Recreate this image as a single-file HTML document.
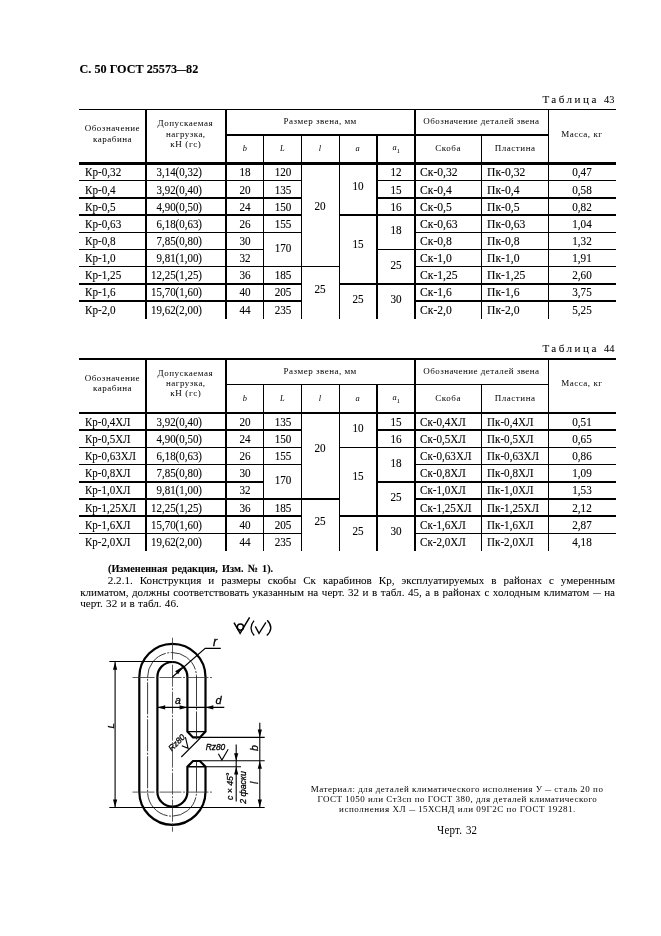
<!DOCTYPE html>
<html lang="ru">
<head>
<meta charset="utf-8">
<title>ГОСТ 25573—82, с. 50</title>
<style>
html,body{margin:0;padding:0;background:#fff;}
body{filter:grayscale(1);width:661px;height:936px;position:relative;overflow:hidden;font-family:"Liberation Serif","DejaVu Serif",serif;color:#000;}
.ln{position:absolute;background:#000;}
.t{position:absolute;line-height:20px;white-space:nowrap;margin:0;padding:0;-webkit-text-stroke:0.1px #000;}
.b{font-weight:bold;}
.ns{-webkit-text-stroke:0;}
.ps{-webkit-text-stroke:0.05px #000;}
.d{display:inline-block;transform-origin:0 50%;}
.i{font-style:italic;}
.sans{font-family:"Liberation Sans","DejaVu Sans",sans-serif;}
svg{position:absolute;overflow:visible;}
</style>
</head>
<body>
<span class="t b" style="top:59px;font-size:12.2px;left:79.5px;">С. 50 ГОСТ 25573<span class="d" style="width:8.9px;transform:scaleX(0.730)">—</span>82</span>
<span class="t ps" style="left:542.40px;top:89px;font-size:11.1px;letter-spacing:2.475px;">Таблица</span>
<span class="t ps" style="left:604.40px;top:89px;font-size:11.1px;transform:scaleX(0.9369);transform-origin:0 0;">43</span>
<div class="ln" style="left:79px;top:109px;width:537px;height:1px"></div>
<div class="ln" style="left:226px;top:134px;width:322px;height:2px"></div>
<div class="ln" style="left:79px;top:162px;width:537px;height:3px"></div>
<div class="ln" style="left:145px;top:109px;width:2px;height:210px"></div>
<div class="ln" style="left:225px;top:109px;width:2px;height:210px"></div>
<div class="ln" style="left:263px;top:134px;width:1px;height:185px"></div>
<div class="ln" style="left:301px;top:134px;width:1px;height:185px"></div>
<div class="ln" style="left:339px;top:134px;width:1px;height:185px"></div>
<div class="ln" style="left:376px;top:134px;width:2px;height:185px"></div>
<div class="ln" style="left:414px;top:109px;width:2px;height:210px"></div>
<div class="ln" style="left:481px;top:134px;width:1px;height:185px"></div>
<div class="ln" style="left:548px;top:109px;width:1px;height:210px"></div>
<span class="t ns" style="left:84.70px;top:118px;font-size:9.0px;letter-spacing:0.517px;">Обозначение</span>
<span class="t ns" style="left:93.00px;top:129px;font-size:9.0px;letter-spacing:0.524px;">карабина</span>
<span class="t ns" style="left:157.60px;top:113px;font-size:9.0px;letter-spacing:0.506px;">Допускаемая</span>
<span class="t ns" style="left:166.00px;top:124px;font-size:9.0px;letter-spacing:0.460px;">нагрузка,</span>
<span class="t ns" style="left:170.30px;top:134px;font-size:9.0px;letter-spacing:0.616px;">кН (гс)</span>
<span class="t ns" style="left:283.60px;top:111px;font-size:9.0px;letter-spacing:0.492px;">Размер звена, мм</span>
<span class="t ns" style="left:423.20px;top:111px;font-size:9.0px;letter-spacing:0.463px;">Обозначение деталей звена</span>
<span class="t i ns" style="top:139px;font-size:8.4px;left:94.90px;width:300px;text-align:center;">b</span>
<span class="t i ns" style="top:139px;font-size:8.4px;left:132.30px;width:300px;text-align:center;">L</span>
<span class="t i ns" style="top:139px;font-size:8.4px;left:169.80px;width:300px;text-align:center;">l</span>
<span class="t i ns" style="top:139px;font-size:8.4px;left:207.50px;width:300px;text-align:center;">a</span>
<span class="t i ns" style="top:138px;font-size:8.4px;left:246.20px;width:300px;text-align:center;">a<sub style="font-size:6.8px;font-style:normal;vertical-align:-2.6px;line-height:0">1</sub></span>
<span class="t ns" style="left:435.30px;top:138px;font-size:9.0px;letter-spacing:0.527px;">Скоба</span>
<span class="t ns" style="left:494.80px;top:138px;font-size:9.0px;letter-spacing:0.523px;">Пластина</span>
<span class="t ns" style="left:561.20px;top:124px;font-size:9.0px;letter-spacing:0.518px;">Масса, кг</span>
<span class="t" style="top:163px;font-size:11.7px;left:84.9px;transform:scaleX(0.954);transform-origin:0 0;">Кр-0,32</span>
<span class="t" style="top:163px;font-size:11.7px;left:-97.80px;width:300px;text-align:right;transform:scaleX(0.93492);transform-origin:100% 0;">3,14(0,32)</span>
<span class="t" style="top:163px;font-size:11.7px;left:95.40px;width:300px;text-align:center;transform:scaleX(0.954);transform-origin:50% 0;">18</span>
<span class="t" style="top:163px;font-size:11.7px;left:419.5px;transform:scaleX(0.996);transform-origin:0 0;">Ск-0,32</span>
<span class="t" style="top:163px;font-size:11.7px;left:486.7px;transform:scaleX(0.996);transform-origin:0 0;">Пк-0,32</span>
<span class="t" style="top:163px;font-size:11.7px;left:432.40px;width:300px;text-align:center;transform:scaleX(0.954);transform-origin:50% 0;">0,47</span>
<span class="t" style="top:181px;font-size:11.7px;left:84.9px;transform:scaleX(0.954);transform-origin:0 0;">Кр-0,4</span>
<span class="t" style="top:181px;font-size:11.7px;left:-97.80px;width:300px;text-align:right;transform:scaleX(0.93492);transform-origin:100% 0;">3,92(0,40)</span>
<span class="t" style="top:181px;font-size:11.7px;left:95.40px;width:300px;text-align:center;transform:scaleX(0.954);transform-origin:50% 0;">20</span>
<span class="t" style="top:181px;font-size:11.7px;left:419.5px;transform:scaleX(0.996);transform-origin:0 0;">Ск-0,4</span>
<span class="t" style="top:181px;font-size:11.7px;left:486.7px;transform:scaleX(0.996);transform-origin:0 0;">Пк-0,4</span>
<span class="t" style="top:181px;font-size:11.7px;left:432.40px;width:300px;text-align:center;transform:scaleX(0.954);transform-origin:50% 0;">0,58</span>
<span class="t" style="top:198px;font-size:11.7px;left:84.9px;transform:scaleX(0.954);transform-origin:0 0;">Кр-0,5</span>
<span class="t" style="top:198px;font-size:11.7px;left:-97.80px;width:300px;text-align:right;transform:scaleX(0.93492);transform-origin:100% 0;">4,90(0,50)</span>
<span class="t" style="top:198px;font-size:11.7px;left:95.40px;width:300px;text-align:center;transform:scaleX(0.954);transform-origin:50% 0;">24</span>
<span class="t" style="top:198px;font-size:11.7px;left:419.5px;transform:scaleX(0.996);transform-origin:0 0;">Ск-0,5</span>
<span class="t" style="top:198px;font-size:11.7px;left:486.7px;transform:scaleX(0.996);transform-origin:0 0;">Пк-0,5</span>
<span class="t" style="top:198px;font-size:11.7px;left:432.40px;width:300px;text-align:center;transform:scaleX(0.954);transform-origin:50% 0;">0,82</span>
<span class="t" style="top:215px;font-size:11.7px;left:84.9px;transform:scaleX(0.954);transform-origin:0 0;">Кр-0,63</span>
<span class="t" style="top:215px;font-size:11.7px;left:-97.80px;width:300px;text-align:right;transform:scaleX(0.93492);transform-origin:100% 0;">6,18(0,63)</span>
<span class="t" style="top:215px;font-size:11.7px;left:95.40px;width:300px;text-align:center;transform:scaleX(0.954);transform-origin:50% 0;">26</span>
<span class="t" style="top:215px;font-size:11.7px;left:419.5px;transform:scaleX(0.996);transform-origin:0 0;">Ск-0,63</span>
<span class="t" style="top:215px;font-size:11.7px;left:486.7px;transform:scaleX(0.996);transform-origin:0 0;">Пк-0,63</span>
<span class="t" style="top:215px;font-size:11.7px;left:432.40px;width:300px;text-align:center;transform:scaleX(0.954);transform-origin:50% 0;">1,04</span>
<span class="t" style="top:232px;font-size:11.7px;left:84.9px;transform:scaleX(0.954);transform-origin:0 0;">Кр-0,8</span>
<span class="t" style="top:232px;font-size:11.7px;left:-97.80px;width:300px;text-align:right;transform:scaleX(0.93492);transform-origin:100% 0;">7,85(0,80)</span>
<span class="t" style="top:232px;font-size:11.7px;left:95.40px;width:300px;text-align:center;transform:scaleX(0.954);transform-origin:50% 0;">30</span>
<span class="t" style="top:232px;font-size:11.7px;left:419.5px;transform:scaleX(0.996);transform-origin:0 0;">Ск-0,8</span>
<span class="t" style="top:232px;font-size:11.7px;left:486.7px;transform:scaleX(0.996);transform-origin:0 0;">Пк-0,8</span>
<span class="t" style="top:232px;font-size:11.7px;left:432.40px;width:300px;text-align:center;transform:scaleX(0.954);transform-origin:50% 0;">1,32</span>
<span class="t" style="top:249px;font-size:11.7px;left:84.9px;transform:scaleX(0.954);transform-origin:0 0;">Кр-1,0</span>
<span class="t" style="top:249px;font-size:11.7px;left:-97.80px;width:300px;text-align:right;transform:scaleX(0.93492);transform-origin:100% 0;">9,81(1,00)</span>
<span class="t" style="top:249px;font-size:11.7px;left:95.40px;width:300px;text-align:center;transform:scaleX(0.954);transform-origin:50% 0;">32</span>
<span class="t" style="top:249px;font-size:11.7px;left:419.5px;transform:scaleX(0.996);transform-origin:0 0;">Ск-1,0</span>
<span class="t" style="top:249px;font-size:11.7px;left:486.7px;transform:scaleX(0.996);transform-origin:0 0;">Пк-1,0</span>
<span class="t" style="top:249px;font-size:11.7px;left:432.40px;width:300px;text-align:center;transform:scaleX(0.954);transform-origin:50% 0;">1,91</span>
<span class="t" style="top:266px;font-size:11.7px;left:84.9px;transform:scaleX(0.954);transform-origin:0 0;">Кр-1,25</span>
<span class="t" style="top:266px;font-size:11.7px;left:-97.80px;width:300px;text-align:right;transform:scaleX(0.93492);transform-origin:100% 0;">12,25(1,25)</span>
<span class="t" style="top:266px;font-size:11.7px;left:95.40px;width:300px;text-align:center;transform:scaleX(0.954);transform-origin:50% 0;">36</span>
<span class="t" style="top:266px;font-size:11.7px;left:419.5px;transform:scaleX(0.996);transform-origin:0 0;">Ск-1,25</span>
<span class="t" style="top:266px;font-size:11.7px;left:486.7px;transform:scaleX(0.996);transform-origin:0 0;">Пк-1,25</span>
<span class="t" style="top:266px;font-size:11.7px;left:432.40px;width:300px;text-align:center;transform:scaleX(0.954);transform-origin:50% 0;">2,60</span>
<span class="t" style="top:283px;font-size:11.7px;left:84.9px;transform:scaleX(0.954);transform-origin:0 0;">Кр-1,6</span>
<span class="t" style="top:283px;font-size:11.7px;left:-97.80px;width:300px;text-align:right;transform:scaleX(0.93492);transform-origin:100% 0;">15,70(1,60)</span>
<span class="t" style="top:283px;font-size:11.7px;left:95.40px;width:300px;text-align:center;transform:scaleX(0.954);transform-origin:50% 0;">40</span>
<span class="t" style="top:283px;font-size:11.7px;left:419.5px;transform:scaleX(0.996);transform-origin:0 0;">Ск-1,6</span>
<span class="t" style="top:283px;font-size:11.7px;left:486.7px;transform:scaleX(0.996);transform-origin:0 0;">Пк-1,6</span>
<span class="t" style="top:283px;font-size:11.7px;left:432.40px;width:300px;text-align:center;transform:scaleX(0.954);transform-origin:50% 0;">3,75</span>
<span class="t" style="top:301px;font-size:11.7px;left:84.9px;transform:scaleX(0.954);transform-origin:0 0;">Кр-2,0</span>
<span class="t" style="top:301px;font-size:11.7px;left:-97.80px;width:300px;text-align:right;transform:scaleX(0.93492);transform-origin:100% 0;">19,62(2,00)</span>
<span class="t" style="top:301px;font-size:11.7px;left:95.40px;width:300px;text-align:center;transform:scaleX(0.954);transform-origin:50% 0;">44</span>
<span class="t" style="top:301px;font-size:11.7px;left:419.5px;transform:scaleX(0.996);transform-origin:0 0;">Ск-2,0</span>
<span class="t" style="top:301px;font-size:11.7px;left:486.7px;transform:scaleX(0.996);transform-origin:0 0;">Пк-2,0</span>
<span class="t" style="top:301px;font-size:11.7px;left:432.40px;width:300px;text-align:center;transform:scaleX(0.954);transform-origin:50% 0;">5,25</span>
<span class="t" style="top:163px;font-size:11.7px;left:132.80px;width:300px;text-align:center;transform:scaleX(0.954);transform-origin:50% 0;">120</span>
<span class="t" style="top:181px;font-size:11.7px;left:132.80px;width:300px;text-align:center;transform:scaleX(0.954);transform-origin:50% 0;">135</span>
<span class="t" style="top:198px;font-size:11.7px;left:132.80px;width:300px;text-align:center;transform:scaleX(0.954);transform-origin:50% 0;">150</span>
<span class="t" style="top:215px;font-size:11.7px;left:132.80px;width:300px;text-align:center;transform:scaleX(0.954);transform-origin:50% 0;">155</span>
<span class="t" style="top:239px;font-size:11.7px;left:132.80px;width:300px;text-align:center;transform:scaleX(0.954);transform-origin:50% 0;">170</span>
<span class="t" style="top:266px;font-size:11.7px;left:132.80px;width:300px;text-align:center;transform:scaleX(0.954);transform-origin:50% 0;">185</span>
<span class="t" style="top:283px;font-size:11.7px;left:132.80px;width:300px;text-align:center;transform:scaleX(0.954);transform-origin:50% 0;">205</span>
<span class="t" style="top:301px;font-size:11.7px;left:132.80px;width:300px;text-align:center;transform:scaleX(0.954);transform-origin:50% 0;">235</span>
<span class="t" style="top:197px;font-size:11.7px;left:170.30px;width:300px;text-align:center;transform:scaleX(0.954);transform-origin:50% 0;">20</span>
<span class="t" style="top:280px;font-size:11.7px;left:170.30px;width:300px;text-align:center;transform:scaleX(0.954);transform-origin:50% 0;">25</span>
<span class="t" style="top:177px;font-size:11.7px;left:208.00px;width:300px;text-align:center;transform:scaleX(0.954);transform-origin:50% 0;">10</span>
<span class="t" style="top:235px;font-size:11.7px;left:208.00px;width:300px;text-align:center;transform:scaleX(0.954);transform-origin:50% 0;">15</span>
<span class="t" style="top:290px;font-size:11.7px;left:208.00px;width:300px;text-align:center;transform:scaleX(0.954);transform-origin:50% 0;">25</span>
<span class="t" style="top:163px;font-size:11.7px;left:246.20px;width:300px;text-align:center;transform:scaleX(0.954);transform-origin:50% 0;">12</span>
<span class="t" style="top:181px;font-size:11.7px;left:246.20px;width:300px;text-align:center;transform:scaleX(0.954);transform-origin:50% 0;">15</span>
<span class="t" style="top:198px;font-size:11.7px;left:246.20px;width:300px;text-align:center;transform:scaleX(0.954);transform-origin:50% 0;">16</span>
<span class="t" style="top:221px;font-size:11.7px;left:246.20px;width:300px;text-align:center;transform:scaleX(0.954);transform-origin:50% 0;">18</span>
<span class="t" style="top:256px;font-size:11.7px;left:246.20px;width:300px;text-align:center;transform:scaleX(0.954);transform-origin:50% 0;">25</span>
<span class="t" style="top:290px;font-size:11.7px;left:246.20px;width:300px;text-align:center;transform:scaleX(0.954);transform-origin:50% 0;">30</span>
<div class="ln" style="left:79px;top:180px;width:66px;height:1px"></div>
<div class="ln" style="left:147px;top:180px;width:78px;height:1px"></div>
<div class="ln" style="left:227px;top:180px;width:36px;height:1px"></div>
<div class="ln" style="left:263px;top:180px;width:39px;height:1px"></div>
<div class="ln" style="left:377px;top:180px;width:38px;height:1px"></div>
<div class="ln" style="left:415px;top:180px;width:66px;height:1px"></div>
<div class="ln" style="left:481px;top:180px;width:68px;height:1px"></div>
<div class="ln" style="left:548px;top:180px;width:68px;height:1px"></div>
<div class="ln" style="left:79px;top:197px;width:66px;height:2px"></div>
<div class="ln" style="left:147px;top:197px;width:78px;height:2px"></div>
<div class="ln" style="left:227px;top:197px;width:36px;height:2px"></div>
<div class="ln" style="left:263px;top:197px;width:39px;height:2px"></div>
<div class="ln" style="left:377px;top:197px;width:38px;height:2px"></div>
<div class="ln" style="left:415px;top:197px;width:66px;height:2px"></div>
<div class="ln" style="left:481px;top:197px;width:68px;height:2px"></div>
<div class="ln" style="left:548px;top:197px;width:68px;height:2px"></div>
<div class="ln" style="left:79px;top:214px;width:66px;height:2px"></div>
<div class="ln" style="left:147px;top:214px;width:78px;height:2px"></div>
<div class="ln" style="left:227px;top:214px;width:36px;height:2px"></div>
<div class="ln" style="left:263px;top:214px;width:39px;height:2px"></div>
<div class="ln" style="left:339px;top:214px;width:38px;height:2px"></div>
<div class="ln" style="left:377px;top:214px;width:38px;height:2px"></div>
<div class="ln" style="left:415px;top:214px;width:66px;height:2px"></div>
<div class="ln" style="left:481px;top:214px;width:68px;height:2px"></div>
<div class="ln" style="left:548px;top:214px;width:68px;height:2px"></div>
<div class="ln" style="left:79px;top:232px;width:66px;height:1px"></div>
<div class="ln" style="left:147px;top:232px;width:78px;height:1px"></div>
<div class="ln" style="left:227px;top:232px;width:36px;height:1px"></div>
<div class="ln" style="left:263px;top:232px;width:39px;height:1px"></div>
<div class="ln" style="left:415px;top:232px;width:66px;height:1px"></div>
<div class="ln" style="left:481px;top:232px;width:68px;height:1px"></div>
<div class="ln" style="left:548px;top:232px;width:68px;height:1px"></div>
<div class="ln" style="left:79px;top:249px;width:66px;height:1px"></div>
<div class="ln" style="left:147px;top:249px;width:78px;height:1px"></div>
<div class="ln" style="left:227px;top:249px;width:36px;height:1px"></div>
<div class="ln" style="left:377px;top:249px;width:38px;height:1px"></div>
<div class="ln" style="left:415px;top:249px;width:66px;height:1px"></div>
<div class="ln" style="left:481px;top:249px;width:68px;height:1px"></div>
<div class="ln" style="left:548px;top:249px;width:68px;height:1px"></div>
<div class="ln" style="left:79px;top:266px;width:66px;height:1px"></div>
<div class="ln" style="left:147px;top:266px;width:78px;height:1px"></div>
<div class="ln" style="left:227px;top:266px;width:36px;height:1px"></div>
<div class="ln" style="left:263px;top:266px;width:39px;height:1px"></div>
<div class="ln" style="left:301px;top:266px;width:39px;height:1px"></div>
<div class="ln" style="left:415px;top:266px;width:66px;height:1px"></div>
<div class="ln" style="left:481px;top:266px;width:68px;height:1px"></div>
<div class="ln" style="left:548px;top:266px;width:68px;height:1px"></div>
<div class="ln" style="left:79px;top:283px;width:66px;height:2px"></div>
<div class="ln" style="left:147px;top:283px;width:78px;height:2px"></div>
<div class="ln" style="left:227px;top:283px;width:36px;height:2px"></div>
<div class="ln" style="left:263px;top:283px;width:39px;height:2px"></div>
<div class="ln" style="left:339px;top:283px;width:38px;height:2px"></div>
<div class="ln" style="left:377px;top:283px;width:38px;height:2px"></div>
<div class="ln" style="left:415px;top:283px;width:66px;height:2px"></div>
<div class="ln" style="left:481px;top:283px;width:68px;height:2px"></div>
<div class="ln" style="left:548px;top:283px;width:68px;height:2px"></div>
<div class="ln" style="left:79px;top:300px;width:66px;height:2px"></div>
<div class="ln" style="left:147px;top:300px;width:78px;height:2px"></div>
<div class="ln" style="left:227px;top:300px;width:36px;height:2px"></div>
<div class="ln" style="left:263px;top:300px;width:39px;height:2px"></div>
<div class="ln" style="left:415px;top:300px;width:66px;height:2px"></div>
<div class="ln" style="left:481px;top:300px;width:68px;height:2px"></div>
<div class="ln" style="left:548px;top:300px;width:68px;height:2px"></div>
<span class="t ps" style="left:542.40px;top:338px;font-size:11.1px;letter-spacing:2.475px;">Таблица</span>
<span class="t ps" style="left:604.40px;top:338px;font-size:11.1px;transform:scaleX(0.9369);transform-origin:0 0;">44</span>
<div class="ln" style="left:79px;top:358px;width:537px;height:2px"></div>
<div class="ln" style="left:226px;top:384px;width:322px;height:1px"></div>
<div class="ln" style="left:79px;top:412px;width:537px;height:2px"></div>
<div class="ln" style="left:145px;top:358px;width:2px;height:193px"></div>
<div class="ln" style="left:225px;top:358px;width:2px;height:193px"></div>
<div class="ln" style="left:263px;top:384px;width:1px;height:167px"></div>
<div class="ln" style="left:301px;top:384px;width:1px;height:167px"></div>
<div class="ln" style="left:339px;top:384px;width:1px;height:167px"></div>
<div class="ln" style="left:376px;top:384px;width:2px;height:167px"></div>
<div class="ln" style="left:414px;top:358px;width:2px;height:193px"></div>
<div class="ln" style="left:481px;top:384px;width:1px;height:167px"></div>
<div class="ln" style="left:548px;top:358px;width:1px;height:193px"></div>
<span class="t ns" style="left:84.70px;top:368px;font-size:9.0px;letter-spacing:0.517px;">Обозначение</span>
<span class="t ns" style="left:93.00px;top:378px;font-size:9.0px;letter-spacing:0.524px;">карабина</span>
<span class="t ns" style="left:157.60px;top:363px;font-size:9.0px;letter-spacing:0.506px;">Допускаемая</span>
<span class="t ns" style="left:166.00px;top:373px;font-size:9.0px;letter-spacing:0.460px;">нагрузка,</span>
<span class="t ns" style="left:170.30px;top:383px;font-size:9.0px;letter-spacing:0.616px;">кН (гс)</span>
<span class="t ns" style="left:283.60px;top:361px;font-size:9.0px;letter-spacing:0.492px;">Размер звена, мм</span>
<span class="t ns" style="left:423.20px;top:361px;font-size:9.0px;letter-spacing:0.463px;">Обозначение деталей звена</span>
<span class="t i ns" style="top:389px;font-size:8.4px;left:94.90px;width:300px;text-align:center;">b</span>
<span class="t i ns" style="top:389px;font-size:8.4px;left:132.30px;width:300px;text-align:center;">L</span>
<span class="t i ns" style="top:389px;font-size:8.4px;left:169.80px;width:300px;text-align:center;">l</span>
<span class="t i ns" style="top:389px;font-size:8.4px;left:207.50px;width:300px;text-align:center;">a</span>
<span class="t i ns" style="top:388px;font-size:8.4px;left:246.20px;width:300px;text-align:center;">a<sub style="font-size:6.8px;font-style:normal;vertical-align:-2.6px;line-height:0">1</sub></span>
<span class="t ns" style="left:435.30px;top:388px;font-size:9.0px;letter-spacing:0.527px;">Скоба</span>
<span class="t ns" style="left:494.80px;top:388px;font-size:9.0px;letter-spacing:0.523px;">Пластина</span>
<span class="t ns" style="left:561.20px;top:373px;font-size:9.0px;letter-spacing:0.518px;">Масса, кг</span>
<span class="t" style="top:413px;font-size:11.7px;left:84.9px;transform:scaleX(0.938);transform-origin:0 0;">Кр-0,4ХЛ</span>
<span class="t" style="top:413px;font-size:11.7px;left:-97.80px;width:300px;text-align:right;transform:scaleX(0.93492);transform-origin:100% 0;">3,92(0,40)</span>
<span class="t" style="top:413px;font-size:11.7px;left:95.40px;width:300px;text-align:center;transform:scaleX(0.954);transform-origin:50% 0;">20</span>
<span class="t" style="top:413px;font-size:11.7px;left:419.5px;transform:scaleX(0.949);transform-origin:0 0;">Ск-0,4ХЛ</span>
<span class="t" style="top:413px;font-size:11.7px;left:486.7px;transform:scaleX(0.949);transform-origin:0 0;">Пк-0,4ХЛ</span>
<span class="t" style="top:413px;font-size:11.7px;left:432.40px;width:300px;text-align:center;transform:scaleX(0.954);transform-origin:50% 0;">0,51</span>
<span class="t" style="top:430px;font-size:11.7px;left:84.9px;transform:scaleX(0.938);transform-origin:0 0;">Кр-0,5ХЛ</span>
<span class="t" style="top:430px;font-size:11.7px;left:-97.80px;width:300px;text-align:right;transform:scaleX(0.93492);transform-origin:100% 0;">4,90(0,50)</span>
<span class="t" style="top:430px;font-size:11.7px;left:95.40px;width:300px;text-align:center;transform:scaleX(0.954);transform-origin:50% 0;">24</span>
<span class="t" style="top:430px;font-size:11.7px;left:419.5px;transform:scaleX(0.949);transform-origin:0 0;">Ск-0,5ХЛ</span>
<span class="t" style="top:430px;font-size:11.7px;left:486.7px;transform:scaleX(0.949);transform-origin:0 0;">Пк-0,5ХЛ</span>
<span class="t" style="top:430px;font-size:11.7px;left:432.40px;width:300px;text-align:center;transform:scaleX(0.954);transform-origin:50% 0;">0,65</span>
<span class="t" style="top:447px;font-size:11.7px;left:84.9px;transform:scaleX(0.938);transform-origin:0 0;">Кр-0,63ХЛ</span>
<span class="t" style="top:447px;font-size:11.7px;left:-97.80px;width:300px;text-align:right;transform:scaleX(0.93492);transform-origin:100% 0;">6,18(0,63)</span>
<span class="t" style="top:447px;font-size:11.7px;left:95.40px;width:300px;text-align:center;transform:scaleX(0.954);transform-origin:50% 0;">26</span>
<span class="t" style="top:447px;font-size:11.7px;left:419.5px;transform:scaleX(0.949);transform-origin:0 0;">Ск-0,63ХЛ</span>
<span class="t" style="top:447px;font-size:11.7px;left:486.7px;transform:scaleX(0.949);transform-origin:0 0;">Пк-0,63ХЛ</span>
<span class="t" style="top:447px;font-size:11.7px;left:432.40px;width:300px;text-align:center;transform:scaleX(0.954);transform-origin:50% 0;">0,86</span>
<span class="t" style="top:464px;font-size:11.7px;left:84.9px;transform:scaleX(0.938);transform-origin:0 0;">Кр-0,8ХЛ</span>
<span class="t" style="top:464px;font-size:11.7px;left:-97.80px;width:300px;text-align:right;transform:scaleX(0.93492);transform-origin:100% 0;">7,85(0,80)</span>
<span class="t" style="top:464px;font-size:11.7px;left:95.40px;width:300px;text-align:center;transform:scaleX(0.954);transform-origin:50% 0;">30</span>
<span class="t" style="top:464px;font-size:11.7px;left:419.5px;transform:scaleX(0.949);transform-origin:0 0;">Ск-0,8ХЛ</span>
<span class="t" style="top:464px;font-size:11.7px;left:486.7px;transform:scaleX(0.949);transform-origin:0 0;">Пк-0,8ХЛ</span>
<span class="t" style="top:464px;font-size:11.7px;left:432.40px;width:300px;text-align:center;transform:scaleX(0.954);transform-origin:50% 0;">1,09</span>
<span class="t" style="top:481px;font-size:11.7px;left:84.9px;transform:scaleX(0.938);transform-origin:0 0;">Кр-1,0ХЛ</span>
<span class="t" style="top:481px;font-size:11.7px;left:-97.80px;width:300px;text-align:right;transform:scaleX(0.93492);transform-origin:100% 0;">9,81(1,00)</span>
<span class="t" style="top:481px;font-size:11.7px;left:95.40px;width:300px;text-align:center;transform:scaleX(0.954);transform-origin:50% 0;">32</span>
<span class="t" style="top:481px;font-size:11.7px;left:419.5px;transform:scaleX(0.949);transform-origin:0 0;">Ск-1,0ХЛ</span>
<span class="t" style="top:481px;font-size:11.7px;left:486.7px;transform:scaleX(0.949);transform-origin:0 0;">Пк-1,0ХЛ</span>
<span class="t" style="top:481px;font-size:11.7px;left:432.40px;width:300px;text-align:center;transform:scaleX(0.954);transform-origin:50% 0;">1,53</span>
<span class="t" style="top:499px;font-size:11.7px;left:84.9px;transform:scaleX(0.938);transform-origin:0 0;">Кр-1,25ХЛ</span>
<span class="t" style="top:499px;font-size:11.7px;left:-97.80px;width:300px;text-align:right;transform:scaleX(0.93492);transform-origin:100% 0;">12,25(1,25)</span>
<span class="t" style="top:499px;font-size:11.7px;left:95.40px;width:300px;text-align:center;transform:scaleX(0.954);transform-origin:50% 0;">36</span>
<span class="t" style="top:499px;font-size:11.7px;left:419.5px;transform:scaleX(0.949);transform-origin:0 0;">Ск-1,25ХЛ</span>
<span class="t" style="top:499px;font-size:11.7px;left:486.7px;transform:scaleX(0.949);transform-origin:0 0;">Пк-1,25ХЛ</span>
<span class="t" style="top:499px;font-size:11.7px;left:432.40px;width:300px;text-align:center;transform:scaleX(0.954);transform-origin:50% 0;">2,12</span>
<span class="t" style="top:516px;font-size:11.7px;left:84.9px;transform:scaleX(0.938);transform-origin:0 0;">Кр-1,6ХЛ</span>
<span class="t" style="top:516px;font-size:11.7px;left:-97.80px;width:300px;text-align:right;transform:scaleX(0.93492);transform-origin:100% 0;">15,70(1,60)</span>
<span class="t" style="top:516px;font-size:11.7px;left:95.40px;width:300px;text-align:center;transform:scaleX(0.954);transform-origin:50% 0;">40</span>
<span class="t" style="top:516px;font-size:11.7px;left:419.5px;transform:scaleX(0.949);transform-origin:0 0;">Ск-1,6ХЛ</span>
<span class="t" style="top:516px;font-size:11.7px;left:486.7px;transform:scaleX(0.949);transform-origin:0 0;">Пк-1,6ХЛ</span>
<span class="t" style="top:516px;font-size:11.7px;left:432.40px;width:300px;text-align:center;transform:scaleX(0.954);transform-origin:50% 0;">2,87</span>
<span class="t" style="top:533px;font-size:11.7px;left:84.9px;transform:scaleX(0.938);transform-origin:0 0;">Кр-2,0ХЛ</span>
<span class="t" style="top:533px;font-size:11.7px;left:-97.80px;width:300px;text-align:right;transform:scaleX(0.93492);transform-origin:100% 0;">19,62(2,00)</span>
<span class="t" style="top:533px;font-size:11.7px;left:95.40px;width:300px;text-align:center;transform:scaleX(0.954);transform-origin:50% 0;">44</span>
<span class="t" style="top:533px;font-size:11.7px;left:419.5px;transform:scaleX(0.949);transform-origin:0 0;">Ск-2,0ХЛ</span>
<span class="t" style="top:533px;font-size:11.7px;left:486.7px;transform:scaleX(0.949);transform-origin:0 0;">Пк-2,0ХЛ</span>
<span class="t" style="top:533px;font-size:11.7px;left:432.40px;width:300px;text-align:center;transform:scaleX(0.954);transform-origin:50% 0;">4,18</span>
<span class="t" style="top:413px;font-size:11.7px;left:132.80px;width:300px;text-align:center;transform:scaleX(0.954);transform-origin:50% 0;">135</span>
<span class="t" style="top:430px;font-size:11.7px;left:132.80px;width:300px;text-align:center;transform:scaleX(0.954);transform-origin:50% 0;">150</span>
<span class="t" style="top:447px;font-size:11.7px;left:132.80px;width:300px;text-align:center;transform:scaleX(0.954);transform-origin:50% 0;">155</span>
<span class="t" style="top:471px;font-size:11.7px;left:132.80px;width:300px;text-align:center;transform:scaleX(0.954);transform-origin:50% 0;">170</span>
<span class="t" style="top:499px;font-size:11.7px;left:132.80px;width:300px;text-align:center;transform:scaleX(0.954);transform-origin:50% 0;">185</span>
<span class="t" style="top:516px;font-size:11.7px;left:132.80px;width:300px;text-align:center;transform:scaleX(0.954);transform-origin:50% 0;">205</span>
<span class="t" style="top:533px;font-size:11.7px;left:132.80px;width:300px;text-align:center;transform:scaleX(0.954);transform-origin:50% 0;">235</span>
<span class="t" style="top:439px;font-size:11.7px;left:170.30px;width:300px;text-align:center;transform:scaleX(0.954);transform-origin:50% 0;">20</span>
<span class="t" style="top:512px;font-size:11.7px;left:170.30px;width:300px;text-align:center;transform:scaleX(0.954);transform-origin:50% 0;">25</span>
<span class="t" style="top:419px;font-size:11.7px;left:208.00px;width:300px;text-align:center;transform:scaleX(0.954);transform-origin:50% 0;">10</span>
<span class="t" style="top:467px;font-size:11.7px;left:208.00px;width:300px;text-align:center;transform:scaleX(0.954);transform-origin:50% 0;">15</span>
<span class="t" style="top:522px;font-size:11.7px;left:208.00px;width:300px;text-align:center;transform:scaleX(0.954);transform-origin:50% 0;">25</span>
<span class="t" style="top:413px;font-size:11.7px;left:246.20px;width:300px;text-align:center;transform:scaleX(0.954);transform-origin:50% 0;">15</span>
<span class="t" style="top:430px;font-size:11.7px;left:246.20px;width:300px;text-align:center;transform:scaleX(0.954);transform-origin:50% 0;">16</span>
<span class="t" style="top:454px;font-size:11.7px;left:246.20px;width:300px;text-align:center;transform:scaleX(0.954);transform-origin:50% 0;">18</span>
<span class="t" style="top:488px;font-size:11.7px;left:246.20px;width:300px;text-align:center;transform:scaleX(0.954);transform-origin:50% 0;">25</span>
<span class="t" style="top:522px;font-size:11.7px;left:246.20px;width:300px;text-align:center;transform:scaleX(0.954);transform-origin:50% 0;">30</span>
<div class="ln" style="left:79px;top:429px;width:66px;height:2px"></div>
<div class="ln" style="left:147px;top:429px;width:78px;height:2px"></div>
<div class="ln" style="left:227px;top:429px;width:36px;height:2px"></div>
<div class="ln" style="left:263px;top:429px;width:39px;height:2px"></div>
<div class="ln" style="left:377px;top:429px;width:38px;height:2px"></div>
<div class="ln" style="left:415px;top:429px;width:66px;height:2px"></div>
<div class="ln" style="left:481px;top:429px;width:68px;height:2px"></div>
<div class="ln" style="left:548px;top:429px;width:68px;height:2px"></div>
<div class="ln" style="left:79px;top:447px;width:66px;height:1px"></div>
<div class="ln" style="left:147px;top:447px;width:78px;height:1px"></div>
<div class="ln" style="left:227px;top:447px;width:36px;height:1px"></div>
<div class="ln" style="left:263px;top:447px;width:39px;height:1px"></div>
<div class="ln" style="left:339px;top:447px;width:38px;height:1px"></div>
<div class="ln" style="left:377px;top:447px;width:38px;height:1px"></div>
<div class="ln" style="left:415px;top:447px;width:66px;height:1px"></div>
<div class="ln" style="left:481px;top:447px;width:68px;height:1px"></div>
<div class="ln" style="left:548px;top:447px;width:68px;height:1px"></div>
<div class="ln" style="left:79px;top:464px;width:66px;height:1px"></div>
<div class="ln" style="left:147px;top:464px;width:78px;height:1px"></div>
<div class="ln" style="left:227px;top:464px;width:36px;height:1px"></div>
<div class="ln" style="left:263px;top:464px;width:39px;height:1px"></div>
<div class="ln" style="left:415px;top:464px;width:66px;height:1px"></div>
<div class="ln" style="left:481px;top:464px;width:68px;height:1px"></div>
<div class="ln" style="left:548px;top:464px;width:68px;height:1px"></div>
<div class="ln" style="left:79px;top:481px;width:66px;height:2px"></div>
<div class="ln" style="left:147px;top:481px;width:78px;height:2px"></div>
<div class="ln" style="left:227px;top:481px;width:36px;height:2px"></div>
<div class="ln" style="left:377px;top:481px;width:38px;height:2px"></div>
<div class="ln" style="left:415px;top:481px;width:66px;height:2px"></div>
<div class="ln" style="left:481px;top:481px;width:68px;height:2px"></div>
<div class="ln" style="left:548px;top:481px;width:68px;height:2px"></div>
<div class="ln" style="left:79px;top:498px;width:66px;height:2px"></div>
<div class="ln" style="left:147px;top:498px;width:78px;height:2px"></div>
<div class="ln" style="left:227px;top:498px;width:36px;height:2px"></div>
<div class="ln" style="left:263px;top:498px;width:39px;height:2px"></div>
<div class="ln" style="left:301px;top:498px;width:39px;height:2px"></div>
<div class="ln" style="left:415px;top:498px;width:66px;height:2px"></div>
<div class="ln" style="left:481px;top:498px;width:68px;height:2px"></div>
<div class="ln" style="left:548px;top:498px;width:68px;height:2px"></div>
<div class="ln" style="left:79px;top:515px;width:66px;height:2px"></div>
<div class="ln" style="left:147px;top:515px;width:78px;height:2px"></div>
<div class="ln" style="left:227px;top:515px;width:36px;height:2px"></div>
<div class="ln" style="left:263px;top:515px;width:39px;height:2px"></div>
<div class="ln" style="left:339px;top:515px;width:38px;height:2px"></div>
<div class="ln" style="left:377px;top:515px;width:38px;height:2px"></div>
<div class="ln" style="left:415px;top:515px;width:66px;height:2px"></div>
<div class="ln" style="left:481px;top:515px;width:68px;height:2px"></div>
<div class="ln" style="left:548px;top:515px;width:68px;height:2px"></div>
<div class="ln" style="left:79px;top:533px;width:66px;height:1px"></div>
<div class="ln" style="left:147px;top:533px;width:78px;height:1px"></div>
<div class="ln" style="left:227px;top:533px;width:36px;height:1px"></div>
<div class="ln" style="left:263px;top:533px;width:39px;height:1px"></div>
<div class="ln" style="left:415px;top:533px;width:66px;height:1px"></div>
<div class="ln" style="left:481px;top:533px;width:68px;height:1px"></div>
<div class="ln" style="left:548px;top:533px;width:68px;height:1px"></div>
<span class="t b" style="top:558px;font-size:11.1px;left:108.0px;transform:scaleX(0.92);transform-origin:0 0;word-spacing:1.8px;">(Измененная редакция, Изм. № 1).</span>
<div class="t ps" style="left:107.80000000000001px;top:570px;width:507.20px;font-size:11.1px;white-space:nowrap;text-align:justify;text-align-last:justify;">2.2.1. Конструкция и размеры скобы Ск карабинов Кр, эксплуатируемых в районах с умеренным</div>
<div class="t ps" style="left:80.2px;top:582px;width:534.80px;font-size:11.1px;white-space:nowrap;text-align:justify;text-align-last:justify;">климатом, должны соответствовать указанным на черт. 32 и в табл. 45, а в районах с холодным климатом <span class="d" style="width:7.9px;transform:scaleX(0.712)">—</span> на</div>
<div class="t ps" style="left:80.2px;top:593px;width:534.80px;font-size:11.1px;white-space:nowrap;text-align:left;word-spacing:0.45px;">черт. 32 и в табл. 46.</div>
<span class="t ns" style="left:310.80px;top:779px;font-size:9.0px;letter-spacing:0.506px;">Материал: для деталей климатического исполнения У <span class="d" style="width:6.3px;transform:scaleX(0.700)">—</span> сталь 20 по</span>
<span class="t ns" style="left:317.50px;top:789px;font-size:9.0px;letter-spacing:0.491px;">ГОСТ 1050 или Ст3сп по ГОСТ 380, для деталей климатического</span>
<span class="t ns" style="left:339.10px;top:799px;font-size:9.0px;letter-spacing:0.542px;">исполнения ХЛ <span class="d" style="width:6.3px;transform:scaleX(0.700)">—</span> 15ХСНД или 09Г2С по ГОСТ 19281.</span>
<span class="t ns" style="left:437.20px;top:821px;font-size:11.6px;letter-spacing:0.250px;transform:scaleX(0.9496);transform-origin:0 0;">Черт.</span>
<span class="t ns" style="left:466.20px;top:821px;font-size:11.6px;transform:scaleX(0.9397);transform-origin:0 0;">32</span>
<svg width="661" height="936" viewBox="0 0 661 936" style="left:0;top:0" fill="none" stroke="#000" stroke-linecap="butt">
<g stroke-width="2.2" stroke-linejoin="miter">
<path d="M193.0 737.4 L199.9 737.4 L205.5 731.6 L205.5 677.0 A33.1 33.1 0 0 0 139.3 677.0 L139.3 791.7 A33.1 33.1 0 0 0 205.5 791.7 L205.5 766.8 L199.9 761.0 L193.0 761.0 L187.4 766.8 L187.4 791.7 A15.0 15.0 0 0 1 157.4 791.7 L157.4 677.0 A15.0 15.0 0 0 1 187.4 677.0 L187.4 731.6 Z"/>
<path d="M187.4 731.6 L205.5 731.6 M187.4 766.8 L205.5 766.8" stroke-width="1.4"/>
</g>
<g stroke-width="1.1">
<path d="M172.5 637.7 L172.5 831.7" stroke-dasharray="22 1.5 2 1.5" stroke-width="0.8" stroke="#333"/>
<path d="M132.5 677.5 L213.2 677.5" stroke-dasharray="22 1.5 2 1.5" stroke-width="0.8" stroke="#333"/>
<path d="M132.5 792.1 L212.4 792.1" stroke-dasharray="22 1.5 2 1.5" stroke-width="0.8" stroke="#333"/>
<path d="M196.5 739.4 L196.5 677.0 A24.45 24.45 0 0 0 147.6 677.0 L147.6 791.7 A24.45 24.45 0 0 0 196.5 791.7 L196.5 759.0" stroke-dasharray="32 1.5 2 1.5" stroke-dashoffset="4" stroke-width="0.9" stroke="#222"/>
<path d="M109.3 661.5 L172.4 661.5"/>
<path d="M109.3 807.5 L264.7 807.5"/>
<path d="M199.9 737.4 L264.7 737.4"/>
<path d="M193.0 760.7 L264.7 760.7"/>
<path d="M205.5 766.8 L241 766.8"/>
<path d="M115.1 661.9 L115.1 807.3"/>
<path d="M157.4 707.4 L224.3 707.4"/>
<path d="M259.8 722.7 L259.8 807.3"/>
<path d="M236.2 744.6 L236.2 801.4"/>
<path d="M172.4 677.0 L205.2 648.4 L220.8 648.4"/>
<path d="M181.3 757.0 L200.3 738.0"/>
</g>
<path d="M115.10 661.90 L117.20 669.70 L113.00 669.70 Z M115.10 807.30 L113.00 799.50 L117.20 799.50 Z M157.40 707.40 L165.20 705.30 L165.20 709.50 Z M187.40 707.40 L179.60 709.50 L179.60 705.30 Z M205.50 707.40 L213.30 705.30 L213.30 709.50 Z M259.80 737.40 L257.70 729.60 L261.90 729.60 Z M259.80 761.00 L261.90 768.80 L257.70 768.80 Z M259.80 807.30 L257.70 799.50 L261.90 799.50 Z M236.20 761.00 L234.10 753.20 L238.30 753.20 Z M236.20 766.80 L238.30 774.60 L234.10 774.60 Z M183.00 666.40 L178.12 674.25 L175.15 671.28 Z" fill="#000" stroke="none"/>
<g stroke-width="1.5" stroke-linejoin="miter">
<path d="M234.0 622.7 L240.1 633.3 L249.6 617.4"/>
<circle cx="240.4" cy="627.1" r="3.1"/>
</g>
<g stroke-width="1.1" stroke-linejoin="miter">
<path d="M255.3 626.4 L259.0 633.4 L265.9 622.4" stroke-width="1.3"/>
<path d="M254.0 620.6 Q247.9 628 254.2 635.5" stroke-width="1.3"/>
<path d="M267.2 620.2 Q274.6 628 266.8 635.5" stroke-width="1.3"/>
<path d="M218.4 753.7 L221.9 760.1 L228.2 749.2"/>
<path d="M181.8 745.8 L188.1 748.3 L185.4 737.2"/>
</g>
<g fill="#000" stroke="#000" stroke-width="0.3" font-family="'Liberation Sans','DejaVu Sans',sans-serif" font-style="italic">
<text x="213" y="646" font-size="12.5">r</text>
<text x="175" y="703.8" font-size="10.5">a</text>
<text x="215.6" y="704" font-size="11">d</text>
<text transform="translate(113.6 728.6) rotate(-90)" font-size="9.6">L</text>
<text transform="translate(257.6 751) rotate(-90)" font-size="10.5">b</text>
<text transform="translate(257.8 784) rotate(-90)" font-size="10.5">l</text>
<text x="205.7" y="749.9" font-size="8.4" textLength="19.6" lengthAdjust="spacingAndGlyphs">Rz80</text>
<text transform="translate(171.8 751.6) rotate(-45)" font-size="8.4" textLength="19.6" lengthAdjust="spacingAndGlyphs">Rz80</text>
<text transform="translate(233.0 800) rotate(-90)" font-size="9" textLength="27.3" lengthAdjust="spacingAndGlyphs">c × 45°</text>
<text transform="translate(246.4 803.8) rotate(-90)" font-size="9" textLength="32.5" lengthAdjust="spacingAndGlyphs">2 фаски</text>
</g>
</svg>
</body>
</html>
